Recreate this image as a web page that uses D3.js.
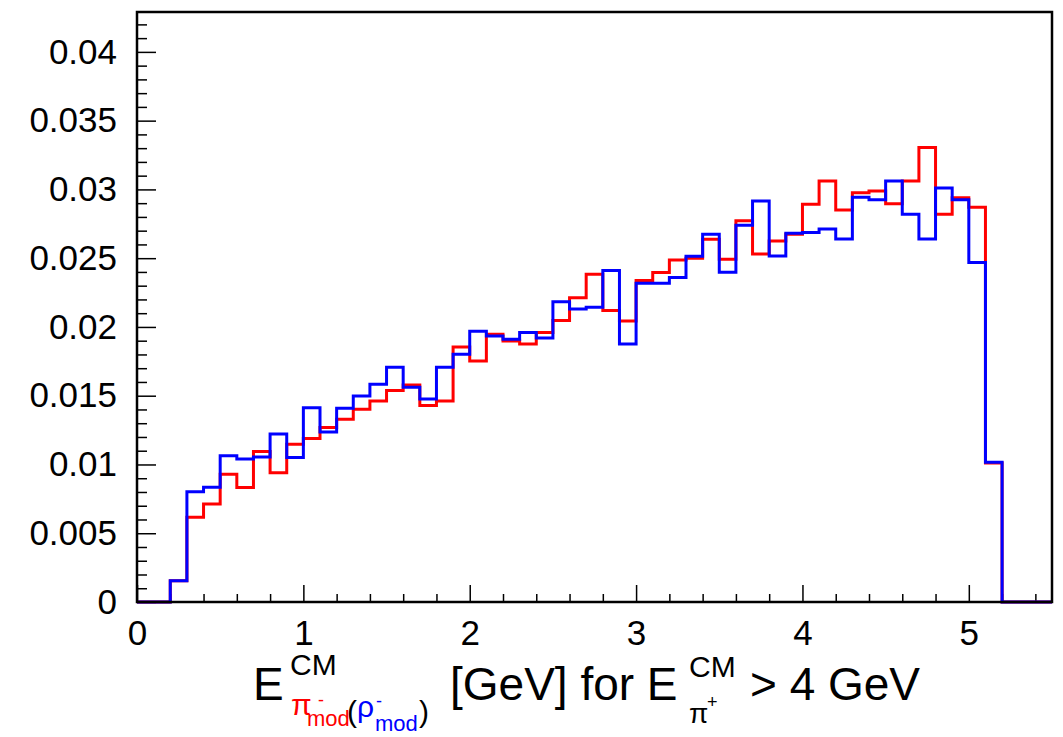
<!DOCTYPE html>
<html>
<head>
<meta charset="utf-8">
<script src="https://cdn.jsdelivr.net/npm/d3@7"></script>
<style>
  html, body { margin: 0; padding: 0; background: #fff; }
  svg { display: block; }
  text { font-family: "Liberation Sans", Arial, Helvetica, sans-serif; }
</style>
</head>
<body>
<svg id="chart" width="1063" height="737"></svg>
<script>
// ---- data (bins of width 0.1 GeV from 0 to 5.5) ----
const binStart = 0;
const binWidth = 0.1;
const redValues = [
  0, 0, 0.00155, 0.00616, 0.00713, 0.00929, 0.00832, 0.01095, 0.00940, 0.01147,
  0.01188, 0.01268, 0.01329, 0.01401, 0.01462, 0.01537, 0.01578, 0.01428, 0.01462, 0.01855,
  0.01753, 0.01947, 0.01898, 0.01876, 0.01959, 0.02046, 0.02213, 0.02383, 0.02119, 0.02044,
  0.02337, 0.02395, 0.02487, 0.02500, 0.02638, 0.02492, 0.02773, 0.02531, 0.02625, 0.02674,
  0.02892, 0.03062, 0.02851, 0.02975, 0.02989, 0.02895, 0.03062, 0.03304, 0.02820, 0.02940,
  0.02870, 0.01010, 0, 0, 0
];
const blueValues = [
  0, 0, 0.00155, 0.00802, 0.00834, 0.01063, 0.01040, 0.01055, 0.01222, 0.01051,
  0.01413, 0.01236, 0.01408, 0.01498, 0.01583, 0.01707, 0.01561, 0.01476, 0.01707, 0.01801,
  0.01969, 0.01935, 0.01910, 0.01959, 0.01920, 0.02184, 0.02131, 0.02143, 0.02410, 0.01876,
  0.02318, 0.02318, 0.02359, 0.02514, 0.02674, 0.02398, 0.02740, 0.02916, 0.02516, 0.02681,
  0.02686, 0.02713, 0.02640, 0.02943, 0.02924, 0.03062, 0.02820, 0.02640, 0.03011, 0.02924,
  0.02468, 0.01016, 0, 0, 0
];
const xTickValues = [0, 1, 2, 3, 4, 5];
const xTickLabels = ["0", "1", "2", "3", "4", "5"];
const yTickValues = [0, 0.005, 0.01, 0.015, 0.02, 0.025, 0.03, 0.035, 0.04];
const yTickLabels = ["0", "0.005", "0.01", "0.015", "0.02", "0.025", "0.03", "0.035", "0.04"];
const xDomain = [0, 5.5];
const yDomain = [0, 0.0429];

// ---- layout ----
const L = 137, R = 1052, T = 12, B = 602;
const svg = d3.select("#chart");
svg.append("rect").attr("width", 1063).attr("height", 737).attr("fill", "#fff");

const x = d3.scaleLinear().domain(xDomain).range([L, R]);
const y = d3.scaleLinear().domain(yDomain).range([B, T]);

// minor ticks
const xMinor = d3.range(0, 5.5001, 0.2).filter(v => Math.abs(v - Math.round(v)) > 1e-6);
const yMinor = d3.range(0, 0.0425, 0.001).filter(v => Math.abs(v / 0.005 - Math.round(v / 0.005)) > 1e-6);

const gxMinor = svg.append("g").attr("transform", `translate(0,${B})`)
  .call(d3.axisBottom(x).tickValues(xMinor).tickSize(-8).tickFormat(""));
const gx = svg.append("g").attr("transform", `translate(0,${B})`)
  .call(d3.axisBottom(x).tickValues(xTickValues).tickSize(-17).tickPadding(18)
    .tickFormat((d, i) => xTickLabels[i]));
const gyMinor = svg.append("g").attr("transform", `translate(${L},0)`)
  .call(d3.axisLeft(y).tickValues(yMinor).tickSize(-10).tickFormat(""));
const gy = svg.append("g").attr("transform", `translate(${L},0)`)
  .call(d3.axisLeft(y).tickValues(yTickValues).tickSize(-19).tickPadding(20)
    .tickFormat((d, i) => yTickLabels[i]));

[gxMinor, gx, gyMinor, gy].forEach(g => {
  g.select(".domain").remove();
  g.selectAll(".tick line").attr("stroke", "#000").attr("stroke-width", 1.5);
  g.selectAll(".tick text").attr("fill", "#000").attr("font-size", 35)
    .attr("font-family", "'Liberation Sans', Arial, Helvetica, sans-serif");
});

// ---- histograms ----
function stepPoints(vals) {
  const pts = vals.map((v, i) => [binStart + i * binWidth, v]);
  pts.unshift([binStart, 0]);
  pts.push([binStart + vals.length * binWidth, vals[vals.length - 1]]);
  return pts;
}
const line = d3.line()
  .x(d => x(d[0]))
  .y(d => y(d[1]))
  .curve(d3.curveStepAfter);

svg.append("path").datum(stepPoints(redValues))
  .attr("d", line).attr("fill", "none").attr("stroke", "#ff0000")
  .attr("stroke-width", 3).attr("stroke-linejoin", "miter");
svg.append("path").datum(stepPoints(blueValues))
  .attr("d", line).attr("fill", "none").attr("stroke", "#0000ff")
  .attr("stroke-width", 3).attr("stroke-linejoin", "miter");

// frame
svg.append("rect").attr("x", L).attr("y", T).attr("width", R - L).attr("height", B - T)
  .attr("fill", "none").attr("stroke", "#000").attr("stroke-width", 2.5);

// ---- axis title ----
const title = [
  { t: "E", x: 253, y: 700, s: 46, c: "#000" },
  { t: "CM", x: 290, y: 675, s: 30, c: "#000" },
  { t: "π", x: 291, y: 715, s: 30, c: "#ff0000" },
  { t: "-", x: 318, y: 706, s: 18, c: "#ff0000" },
  { t: "mod", x: 307, y: 726, s: 22, c: "#ff0000" },
  { t: "(", x: 347, y: 722, s: 30, c: "#000" },
  { t: "ρ", x: 357, y: 717, s: 30, c: "#0000ff" },
  { t: "-", x: 376, y: 707, s: 18, c: "#0000ff" },
  { t: "mod", x: 375, y: 731, s: 22, c: "#0000ff" },
  { t: ")", x: 419, y: 722, s: 30, c: "#000" },
  { t: "[GeV] for E", x: 450, y: 700, s: 46, c: "#000" },
  { t: "CM", x: 689, y: 677, s: 30, c: "#000" },
  { t: "π", x: 689, y: 723, s: 28, c: "#000" },
  { t: "+", x: 707, y: 708, s: 18, c: "#000" },
  { t: "> 4 GeV", x: 750, y: 700, s: 46, c: "#000" }
];
svg.append("g").selectAll("text").data(title).join("text")
  .attr("x", d => d.x).attr("y", d => d.y)
  .attr("font-size", d => d.s).attr("fill", d => d.c)
  .style("white-space", "pre")
  .text(d => d.t);
</script>
</body>
</html>
